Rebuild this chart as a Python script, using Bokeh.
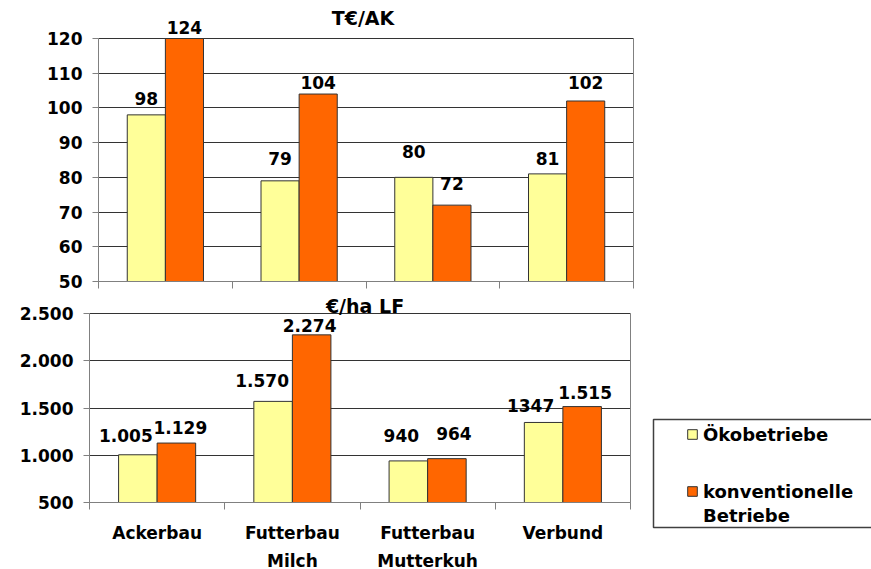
import numpy as np
from bokeh.plotting import figure
from bokeh.models import (Range1d, FixedTicker, ColumnDataSource, LabelSet, Label,
                          Legend, LegendItem, BoxAnnotation, LinearAxis, Grid)
from bokeh.transform import dodge
from bokeh.core.properties import value
from bokeh.embed import file_html
from bokeh.resources import INLINE

# ---------------- data ----------------
categories = ["Ackerbau", "Futterbau\nMilch", "Futterbau\nMutterkuh", "Verbund"]
series_oeko = "Ökobetriebe"
series_konv = ["konventionelle", "Betriebe"]

# T€/AK
tak_oeko = [98, 79, 80, 81]
tak_konv = [124, 104, 72, 102]
tak_oeko_labels = ["98", "79", "80", "81"]
tak_konv_labels = ["124", "104", "72", "102"]
tak_ticks = [50, 60, 70, 80, 90, 100, 110, 120]
tak_tick_labels = ["50", "60", "70", "80", "90", "100", "110", "120"]

# €/ha LF
ha_oeko = [1005, 1570, 940, 1347]
ha_konv = [1129, 2274, 964, 1515]
ha_oeko_labels = ["1.005", "1.570", "940", "1347"]
ha_konv_labels = ["1.129", "2.274", "964", "1.515"]
ha_ticks = [500, 1000, 1500, 2000, 2500]
ha_tick_labels = ["500", "1.000", "1.500", "2.000", "2.500"]

# ---------------- style ----------------
W, H = 871, 569
C_OEKO = "#FFFF99"
C_KONV = "#FF6600"
BAR_LINE = "#333333"
AXIS_C = "#808080"
GRID_C = "#333333"
FONT = "DejaVu Sans"
BW = 0.285
N = len(categories)
XS = np.arange(N) + 0.5

# plot-area boxes in pixels (left, right, top, bottom)
TOP_BOX = (98, 633, 38, 281)
BOT_BOX = (89, 630, 313, 502)

# data-label nudges (pixels) as placed by hand in the original
tak_dx_oeko, tak_dx_konv = [0, 0, 0, 0], [0, 0, 0, 0]
tak_dy_oeko, tak_dy_konv = [16, 22, 26, 15], [11, 12, 22, 18]
ha_dx_oeko, ha_dx_konv = [-12, -11, -7, -13], [4, -2, 7, 3]
ha_dy_oeko, ha_dy_konv = [19, 21, 25, 17], [16, 9, 25, 14]


def ranges(box, ylo, yhi):
    l, r, t, b = box
    sx = (r - l) / N
    sy = (b - t) / (yhi - ylo)
    return (Range1d(-l / sx, (W - l) / sx),
            Range1d(ylo - (H - b) / sy, yhi + t / sy))


t_lo, t_hi = tak_ticks[0], tak_ticks[-1]
h_lo, h_hi = ha_ticks[0], ha_ticks[-1]
xr_t, yr_t = ranges(TOP_BOX, t_lo, t_hi)
xr_b, yr_b = ranges(BOT_BOX, h_lo, h_hi)

p = figure(width=W, height=H, x_range=xr_t, y_range=yr_t,
           frame_width=W, frame_height=H,
           min_border_left=0, min_border_right=0, min_border_top=0, min_border_bottom=0,
           x_axis_location=None, y_axis_location=None,
           output_backend="svg", toolbar_location=None,
           background_fill_color="white", border_fill_color="white")
p.extra_x_ranges = {"xb": xr_b}
p.extra_y_ranges = {"yb": yr_b}
p.outline_line_color = None
p.grid.visible = False

HAS_CROSS = "cross_bounds" in Grid.properties()


def rn(kind):
    return dict(x_range_name="xb", y_range_name="yb") if kind == "b" else {}


def add_grid(ticks, kind):
    if HAS_CROSS:
        p.add_layout(Grid(dimension=1, ticker=FixedTicker(ticks=ticks), cross_bounds=(0, N),
                          grid_line_color=GRID_C, grid_line_width=1, **rn(kind)))
    else:
        p.segment(x0=0, x1=N, y0=ticks, y1=ticks, line_color=GRID_C, line_width=1,
                  level="underlay", **rn(kind))


def add_y_axis(ticks, labels, kind):
    ax = LinearAxis(fixed_location=0, bounds=(ticks[0], ticks[-1]),
                    ticker=FixedTicker(ticks=ticks),
                    major_label_overrides={t: s for t, s in zip(ticks, labels)},
                    axis_line_color=AXIS_C, major_tick_line_color=AXIS_C,
                    major_tick_out=6, major_tick_in=0, minor_tick_line_color=None,
                    major_label_standoff=10, major_label_text_font=FONT,
                    major_label_text_font_style="bold", major_label_text_font_size="17px",
                    major_label_text_color="black", **rn(kind))
    p.add_layout(ax, "left")


def add_x_axis(loc, show, kind):
    ax = LinearAxis(fixed_location=loc, bounds=(0, N),
                    ticker=FixedTicker(ticks=list(XS), minor_ticks=list(range(N + 1))),
                    axis_line_color=AXIS_C, major_tick_line_color=None,
                    major_tick_out=0, major_tick_in=0,
                    minor_tick_line_color=AXIS_C, minor_tick_out=7, minor_tick_in=0,
                    **rn(kind))
    if show:
        ax.major_label_overrides = {float(x): c for x, c in zip(XS, categories)}
        ax.major_label_standoff = 13
        ax.major_label_text_font = FONT
        ax.major_label_text_font_style = "bold"
        ax.major_label_text_font_size = "17px"
        ax.major_label_text_line_height = 1.4
        ax.major_label_text_color = "black"
    else:
        ax.major_label_overrides = {float(x): "" for x in XS}
        ax.major_label_text_color = None
    p.add_layout(ax, "below")


def add_border(ticks, kind):
    p.add_layout(LinearAxis(fixed_location=N, bounds=(ticks[0], ticks[-1]),
                            ticker=FixedTicker(ticks=[]), axis_line_color=AXIS_C,
                            major_tick_line_color=None, minor_tick_line_color=None,
                            major_label_text_color=None, **rn(kind)), "right")


def add_bars(oeko, konv, oeko_lab, konv_lab, lo, hi, dxo, dxk, dyo, dyk, kind):
    src = ColumnDataSource(dict(
        x=XS,
        oeko_top=np.minimum(oeko, hi), konv_top=np.minimum(konv, hi),
        oeko_lab=oeko_lab, konv_lab=konv_lab,
        dxo=dxo, dxk=dxk, dyo=dyo, dyk=dyk))
    r1 = p.vbar(x=dodge("x", -BW / 2), top="oeko_top", bottom=lo, width=BW, source=src,
                fill_color=C_OEKO, line_color=BAR_LINE, line_width=1, **rn(kind))
    r2 = p.vbar(x=dodge("x", BW / 2), top="konv_top", bottom=lo, width=BW, source=src,
                fill_color=C_KONV, line_color=BAR_LINE, line_width=1, **rn(kind))
    for col, lab, dx, xo, yo in (("oeko_top", "oeko_lab", -BW / 2, "dxo", "dyo"),
                                 ("konv_top", "konv_lab", BW / 2, "dxk", "dyk")):
        p.add_layout(LabelSet(x=dodge("x", dx), y=col, text=lab, source=src,
                              x_offset=xo, y_offset=yo, text_align="center",
                              text_baseline="middle", text_font=value(FONT),
                              text_font_style="bold", text_font_size="17px",
                              text_color="black", **rn(kind)))
    return r1, r2, src


def add_title(text, y, dx, dy, kind):
    p.add_layout(Label(x=N / 2, y=y, x_offset=dx, y_offset=dy, text=text,
                       text_align="center", text_baseline="middle", text_font=FONT,
                       text_font_style="bold", text_font_size="19px",
                       text_color="black", **rn(kind)))


# ---------------- top chart: T€/AK ----------------
add_grid(tak_ticks, "t")
add_bars(tak_oeko, tak_konv, tak_oeko_labels, tak_konv_labels, t_lo, t_hi,
         tak_dx_oeko, tak_dx_konv, tak_dy_oeko, tak_dy_konv, "t")
add_y_axis(tak_ticks, tak_tick_labels, "t")
add_x_axis(t_lo, False, "t")
add_border(tak_ticks, "t")
add_title("T€/AK", t_hi, -3, 21, "t")

# ---------------- bottom chart: €/ha LF ----------------
add_grid(ha_ticks, "b")
b1, b2, bsrc = add_bars(ha_oeko, ha_konv, ha_oeko_labels, ha_konv_labels, h_lo, 1e12,
                        ha_dx_oeko, ha_dx_konv, ha_dy_oeko, ha_dy_konv, "b")
add_y_axis(ha_ticks, ha_tick_labels, "b")
add_x_axis(h_lo, True, "b")
add_border(ha_ticks, "b")
add_title("€/ha LF", h_hi, 5, 8, "b")

# invisible renderer used only for the second legend line
dummy = p.vbar(x=dodge("x", BW / 2), top="konv_top", bottom=h_lo, width=BW, source=bsrc,
               fill_alpha=0, line_alpha=0, **rn("b"))

leg_style = dict(padding=0, margin=0, spacing=2, glyph_width=12, glyph_height=12,
                 label_height=22, label_standoff=5, border_line_color=None,
                 background_fill_alpha=0, label_text_font=FONT,
                 label_text_font_style="bold", label_text_font_size="18px",
                 label_text_color="black")
legA = Legend(items=[LegendItem(label=series_oeko, renderers=[b1])],
              location=(686, H - 445), **leg_style)
legB = Legend(items=[LegendItem(label=series_konv[0], renderers=[b2]),
                     LegendItem(label=series_konv[1], renderers=[dummy])],
              location=(686, H - 526), **leg_style)
p.add_layout(BoxAnnotation(left=653, right=W + 20, bottom=H - 527, top=H - 419,
                           left_units="screen", right_units="screen",
                           bottom_units="screen", top_units="screen",
                           fill_alpha=0, line_color="#404040", line_alpha=1.0,
                           line_width=1.5))
p.add_layout(legA)
p.add_layout(legB)

open("out.html", "w").write(file_html(p, INLINE))
